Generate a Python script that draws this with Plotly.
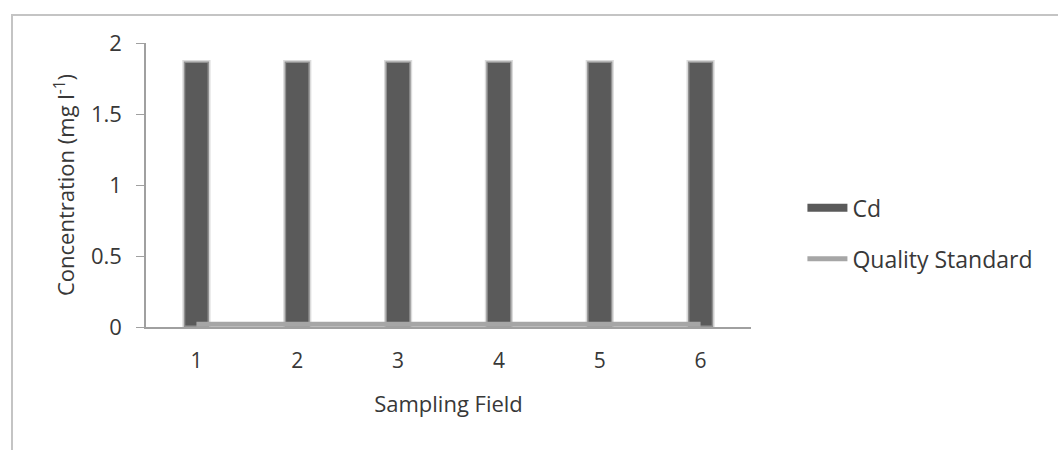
import plotly.graph_objects as go

fields = ["1", "2", "3", "4", "5", "6"]
cd_values = [1.87, 1.87, 1.87, 1.87, 1.87, 1.87]
quality_standard = [0.02, 0.02, 0.02, 0.02, 0.02, 0.02]
y_ticks = [0, 0.5, 1, 1.5, 2]
y_tick_labels = ["0", "0.5", "1", "1.5", "2"]

FONT = "Open Sans"
TXT = "#383838"

fig = go.Figure()
fig.add_trace(go.Bar(
    x=fields, y=cd_values, name="Cd", showlegend=False,
    width=0.25,
    marker=dict(color="#5a5a5a", line=dict(color="rgba(190,190,190,0.55)", width=3)),
))
fig.add_trace(go.Scatter(
    x=fields, y=quality_standard, mode="lines", name="Quality Standard",
    showlegend=False, line=dict(color="#a6a6a6", width=5),
))
# legend entries
fig.add_trace(go.Scatter(x=[None], y=[None], mode="lines", name="Cd", legendgroup="a",
                         line=dict(color="#5a5a5a", width=8)))
fig.add_trace(go.Scatter(x=[None], y=[None], mode="lines", name="Quality Standard",
                         legendgroup="b", line=dict(color="#a6a6a6", width=5)))

fig.update_layout(
    width=1058, height=450,
    margin=dict(l=146, r=307, t=43, b=123),
    paper_bgcolor="white", plot_bgcolor="white",
    font=dict(family=FONT, size=20, color=TXT),
    showlegend=True,
    legend=dict(x=1.085, y=0.33, xanchor="left", yanchor="middle",
                font=dict(family=FONT, size=23, color=TXT),
                tracegroupgap=18, itemwidth=40, bgcolor="rgba(0,0,0,0)"),
    xaxis=dict(type="category", showgrid=False, ticks="", showline=True,
               linecolor="#a0a0a0", linewidth=1.5,
               title=dict(text="Sampling Field", standoff=24,
                          font=dict(family=FONT, size=22, color=TXT)),
               tickfont=dict(family=FONT, size=21, color=TXT), ticklabelstandoff=14),
    yaxis=dict(range=[0, 2], tickvals=y_ticks, ticktext=y_tick_labels,
               showgrid=False, zeroline=False, showline=True,
               linecolor="#a0a0a0", linewidth=1.5, ticks="outside", ticklen=8,
               tickcolor="#a0a0a0",
               title=dict(text="Concentration (mg l<sup>-1</sup>)", standoff=10,
                          font=dict(family=FONT, size=22, color=TXT)),
               tickfont=dict(family=FONT, size=22, color=TXT), ticklabelstandoff=10),
    shapes=[dict(type="rect", xref="paper", yref="paper",
                 x0=(12 - 146) / 605, x1=(1075 - 146) / 605,
                 y0=1 - (470 - 43) / 284, y1=1 + (43 - 15) / 284,
                 line=dict(color="#c4c4c4", width=2), layer="below")],
)

fig.write_html("out.html")
